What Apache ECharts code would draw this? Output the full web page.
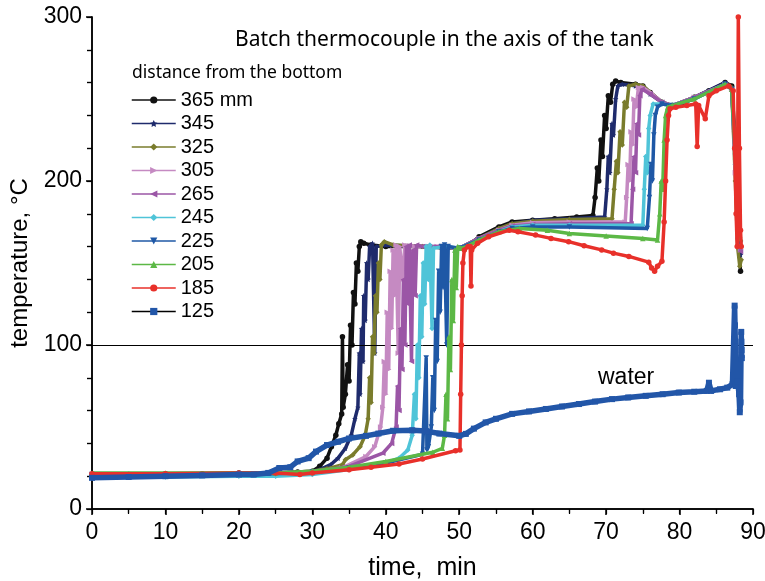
<!DOCTYPE html>
<html>
<head>
<meta charset="utf-8">
<script src="https://cdn.jsdelivr.net/npm/echarts@6/dist/echarts.min.js"></script>
<style>
  html, body { margin: 0; padding: 0; background: #fff; }
  #main { width: 765px; height: 581px; }
</style>
</head>
<body>
<div id="main"></div>
<script>
// thermocouple readings [time min, temperature C]
var names = ['365 mm', '345', '325', '305', '265', '245', '225', '205', '185', '125'];
var colors = ['#111111', '#1f2b6c', '#7a7c2c', '#c58ac2', '#9b56a6', '#4fc4d8', '#1f58a6', '#5cb846', '#e8302a', '#2256a8'];

var t365 = [[0,21],[5,21],[10,21.5],[15,21.5],[20,22],[25,22],[28,22.5],[30,23],[31,26],[32,31],[32.6,38],[33.2,45],[33.6,52],[34.0,58],[34.1,105],[34.2,62],[34.5,70],[34.8,88],[35.0,78],[35.2,112],[35.4,100],[35.6,132],[35.8,125],[36.0,150],[36.2,145],[36.4,160],[36.6,163],[37.0,162],[38,161],[40,160],[43,160],[46,160],[48,159],[50,159],[51,160],[52.7,166],[55.4,172],[57.2,175],[60,176],[63,177],[66,178],[68.2,179],[68.5,190],[68.8,208],[69.0,200],[69.3,225],[69.5,215],[69.8,240],[70.0,232],[70.3,252],[70.6,248],[70.9,259],[71.3,261],[72,260],[74,259],[75,258],[76,254],[77.6,248],[79,246],[80.5,247],[82,251],[84,255],[86.2,260],[87.1,258],[87.5,230],[87.8,190],[88.0,165],[88.3,145]];
var t345 = [[0,21],[10,21],[20,21.5],[25,21.5],[28,22],[30,23],[31,24],[32.5,27],[33.5,31],[34.5,37],[35.3,45],[35.8,55],[36.2,62],[36.4,95],[36.5,70],[36.7,110],[36.9,90],[37.0,130],[37.2,115],[37.4,150],[37.6,140],[37.8,160],[38.2,162],[38.5,95],[38.7,160],[40,161],[45,160],[50,159],[52.7,165],[55.4,171],[57.2,174],[60,176],[65,177],[69.8,178],[70.1,195],[70.3,215],[70.5,205],[70.8,235],[71.0,228],[71.3,250],[71.6,258],[72.2,259],[74,258],[75,257],[76,253],[77.6,248],[79,246],[82,251],[86.2,260],[87.1,257],[87.6,210],[87.9,170],[88.3,155]];
var t325 = [[0,21.5],[10,21.5],[20,22],[25,22],[30,23],[32,24.5],[34.1,27],[34.5,30],[35.5,33],[36.5,38],[37.2,45],[37.6,55],[37.8,80],[38.0,65],[38.2,105],[38.4,95],[38.6,130],[38.8,120],[39.0,150],[39.2,140],[39.4,161],[39.8,163],[41,161],[45,160],[50,159],[52.7,165],[55.4,171],[57.2,174],[60,175.5],[65,176.5],[70.8,177],[71.1,195],[71.4,212],[71.6,205],[71.9,230],[72.2,222],[72.5,248],[72.8,245],[73.1,258],[74,259],[75,258],[76,254],[77.6,248],[79,246],[82,251],[86.2,259],[87.1,257],[87.6,200],[87.9,160],[88.2,148],[88.4,152]];
var t305 = [[0,21],[10,21],[20,21.5],[25,21.5],[30,22.5],[34,25],[37.3,32],[38.5,38],[39.3,50],[39.6,62],[39.8,90],[40.0,70],[40.2,120],[40.4,85],[40.6,145],[40.8,110],[41.0,158],[41.2,130],[41.4,161],[41.7,95],[41.9,160],[42.3,140],[42.6,161],[44,160],[47,160],[50,159],[52.7,165],[55.4,170],[57.2,173],[60,174.5],[65,175],[72.6,175],[72.8,190],[73.0,210],[73.2,200],[73.4,230],[73.6,222],[73.8,250],[74.1,245],[74.4,257],[75,257],[76,254],[77.6,248],[79,246],[82,251],[86.2,259],[87.1,256],[87.6,205],[88.0,165],[88.3,158]];
var t265 = [[0,21],[10,21],[20,21.5],[25,21.5],[30,22.5],[35,26],[39.6,34],[40.8,40],[41.4,50],[41.6,75],[41.8,60],[42.0,110],[42.2,85],[42.4,140],[42.6,100],[42.8,160],[43.0,125],[43.2,161],[43.5,90],[43.7,158],[44.0,130],[44.2,161],[45,160],[47,160],[50,159],[52.7,165],[55.4,170],[57.2,172.5],[60,173.5],[65,174],[73.4,174],[73.6,195],[73.8,215],[74.0,205],[74.2,235],[74.4,228],[74.6,252],[74.9,256],[76,253],[77.6,248],[79,246],[82,251],[86.2,259],[87.1,256],[87.6,210],[88.0,165],[88.3,157]];
var t245 = [[0,19.5],[10,19.5],[20,20],[25,20],[30,21],[35,24],[40,28],[41.8,31],[43,36],[43.6,45],[43.9,70],[44.1,55],[44.3,100],[44.5,80],[44.7,130],[44.9,105],[45.1,150],[45.3,125],[45.5,160],[45.8,140],[46.0,161],[46.3,110],[46.5,159],[48,160],[50,159],[52.7,164],[55.4,169],[57.2,172],[60,173],[65,173],[75.0,173],[75.2,195],[75.4,215],[75.6,205],[75.8,232],[76.0,240],[76.4,247],[77.6,247],[79,246],[82,250],[86.2,259],[87.1,256],[87.6,210],[88.0,170],[88.3,160]];
var t225 = [[0,21],[10,21],[20,21.5],[25,21.5],[30,22.5],[35,25],[40,28],[45,33.4],[45.5,92],[45.6,36],[45.8,38],[46.2,50],[46.4,80],[46.6,60],[46.8,115],[47.0,90],[47.2,145],[47.4,120],[47.6,160],[47.8,135],[48.0,161],[48.3,100],[48.5,160],[50,159],[52.7,164],[55.4,169],[57.2,171],[60,172],[65,172],[75.6,171],[75.9,190],[76.1,210],[76.3,200],[76.5,228],[76.7,240],[77.0,245],[77.6,247],[79,246],[82,250],[86.2,259],[87.1,256],[87.6,215],[88.0,175],[88.3,162]];
var t205 = [[0,22],[10,22],[20,22],[25,22],[30,23],[35,25.5],[40,29],[46.4,34.6],[47.7,37],[48.0,45],[48.2,70],[48.4,55],[48.6,105],[48.8,85],[49.0,140],[49.2,115],[49.4,158],[49.6,135],[49.8,160],[50.2,159],[51,160],[52.7,164],[55.4,169],[58.2,171],[62,170],[65,168],[70,166.5],[75,165],[77.0,164],[77.3,180],[77.5,200],[77.7,195],[77.9,225],[78.1,240],[78.4,245],[79,246],[82,250],[86.2,259],[87.1,256],[87.6,215],[88.0,175],[88.3,165]];
var t185 = [[0,21.5],[10,21.5],[20,22],[25,22],[28.3,21],[30,22],[35,24],[38,25.5],[41.8,27.4],[45,30.5],[49.5,35.5],[50.1,36],[50.2,70],[50.3,100],[50.4,130],[50.5,150],[50.7,158],[51.2,160],[51.5,160],[51.6,136],[51.7,158],[52.5,162],[54,166],[56.8,170],[58,169],[60.4,167],[62.5,165],[64.9,163],[67,160.5],[69.4,158],[71,156],[73.1,154],[75.8,150.5],[76.2,147],[76.6,145],[77.0,148],[77.6,151],[77.9,175],[78.1,200],[78.3,225],[78.5,240],[78.7,244],[79.5,245],[81,246],[82.2,247],[82.4,221],[82.6,246],[83.5,238],[84,252],[85,255],[86.7,258],[87.3,255],[87.5,220],[87.7,180],[87.85,160],[88.0,300],[88.15,220],[88.3,170],[88.4,160]];
var t125 = [[0,19],[5,19.5],[10,20],[15,20.5],[20,21],[22,21],[24,22],[25.5,25],[27,25.5],[28,29],[29.5,31],[30.5,35],[32,39],[33.5,41],[35,43],[37.3,44.6],[39,46],[41,47.7],[43.6,48],[45.5,47.5],[47.3,46],[50,44.6],[50.9,45.8],[52,49],[53.6,52.8],[55,55],[57.2,58],[59.5,59.5],[61.8,61],[64,62.5],[66.3,64],[68.5,65.5],[70.8,67],[73,68],[75.4,69],[77.7,70],[79.9,71],[82,71.5],[83.7,72],[84,77],[84.3,72],[85.5,73],[86.5,74],[87.2,76],[87.5,124],[87.55,112],[87.6,99],[87.65,75],[87.9,78],[88.1,70],[88.2,59],[88.3,65],[88.4,108],[88.42,102],[88.45,97],[88.48,92]];

var curves = [t365, t345, t325, t305, t265, t245, t225, t205, t185, t125];
var starPath = 'path://M0,-10 L2.9,-4 L9.5,-3.1 L4.7,1.5 L5.9,8.1 L0,5 L-5.9,8.1 L-4.7,1.5 L-9.5,-3.1 L-2.9,-4 Z';
var symbols = ['circle', starPath, 'diamond', 'triangle', 'triangle', 'diamond', 'triangle', 'triangle', 'circle', 'rect'];
var rotations = [0, 0, 0, -90, 90, 0, 180, 0, 0, 0];

var numFont = "'Liberation Sans', Arial, sans-serif";
var myChart = echarts.init(document.getElementById('main'));

var series = [];
for (var i = 0; i < names.length; i++) {
  series.push({
    name: names[i],
    type: 'line',
    data: curves[i],
    symbol: symbols[i],
    symbolRotate: rotations[i],
    symbolSize: i === 9 ? 6 : 5.5,
    showAllSymbol: true,
    color: colors[i],
    lineStyle: { width: i === 9 ? 5.5 : 3.5, color: colors[i] },
    itemStyle: { color: colors[i] },
    z: 2 + i
  });
}
series[0].markLine = {
  silent: true,
  symbol: 'none',
  label: { show: false },
  lineStyle: { color: '#000', width: 1, type: 'solid' },
  data: [{ yAxis: 100 }]
};

var legendData = names.map(function (n, i) {
  if (i === 9) return { name: n, lineStyle: { color: '#000' } };
  return { name: n };
});

var option = {
  animation: false,
  backgroundColor: '#fff',
  title: {
    text: 'Batch thermocouple in the axis of the tank',
    left: 235,
    top: 30,
    padding: 0,
    textStyle: { fontFamily: "'Noto Sans', sans-serif", fontSize: 21, fontWeight: 'normal', color: '#000' }
  },
  graphic: [
    { type: 'text', left: 132, top: 64, style: { text: 'distance from the bottom', font: "17.5px 'Noto Sans', sans-serif", fill: '#000' } },
    { type: 'text', left: 598, top: 366, style: { text: 'water', font: "23px 'Liberation Sans', Arial, sans-serif", fill: '#000' } }
  ],
  legend: {
    orient: 'vertical',
    left: 131,
    top: 90,
    padding: 0,
    itemWidth: 44,
    itemHeight: 9,
    itemGap: 3.5,
    data: legendData,
    lineStyle: { width: 1.5 },
    textStyle: { fontFamily: numFont, fontSize: 20, color: '#000', lineHeight: 20 }
  },
  grid: { left: 92, right: 12, top: 17, bottom: 72, outerBoundsMode: 'none' },
  xAxis: [{
    type: 'value', min: 0, max: 90, interval: 10,
    name: 'time,  min', nameLocation: 'middle', nameGap: 47,
    nameTextStyle: { fontFamily: numFont, fontSize: 25, color: '#000' },
    axisLine: { lineStyle: { color: '#000', width: 1.5 } },
    axisTick: { length: 6, lineStyle: { color: '#000', width: 1.5 } },
    minorTick: { show: true, splitNumber: 2, length: 4, lineStyle: { color: '#000', width: 1.2 } },
    axisLabel: { margin: 12, fontFamily: numFont, fontSize: 23, color: '#000' },
    splitLine: { show: false }
  }, {
    type: 'value', position: 'top', min: 0, max: 90, interval: 5,
    axisLine: { show: true, lineStyle: { color: '#000', width: 1.5 } },
    axisTick: { inside: true, length: 5, lineStyle: { color: '#000', width: 1.2 } },
    axisLabel: { show: false },
    splitLine: { show: false }
  }],
  yAxis: [{
    type: 'value', min: 0, max: 300, interval: 100,
    name: 'temperature, °C', nameLocation: 'middle', nameGap: 52,
    nameTextStyle: { fontFamily: numFont, fontSize: 24, color: '#000' },
    axisLine: { show: true, lineStyle: { color: '#000', width: 1.5 } },
    axisTick: { length: 6, lineStyle: { color: '#000', width: 1.5 } },
    minorTick: { show: true, splitNumber: 5, length: 5, lineStyle: { color: '#000', width: 1.2 } },
    axisLabel: { margin: 10, fontFamily: numFont, fontSize: 23, color: '#000' },
    splitLine: { show: false }
  }, {
    type: 'value', position: 'right', min: 0, max: 300, interval: 20,
    axisLine: { show: true, lineStyle: { color: '#000', width: 1.5 } },
    axisTick: { inside: true, length: 5, lineStyle: { color: '#000', width: 1.2 } },
    axisLabel: { show: false },
    splitLine: { show: false }
  }],
  series: series
};
myChart.setOption(option);
</script>
</body>
</html>
